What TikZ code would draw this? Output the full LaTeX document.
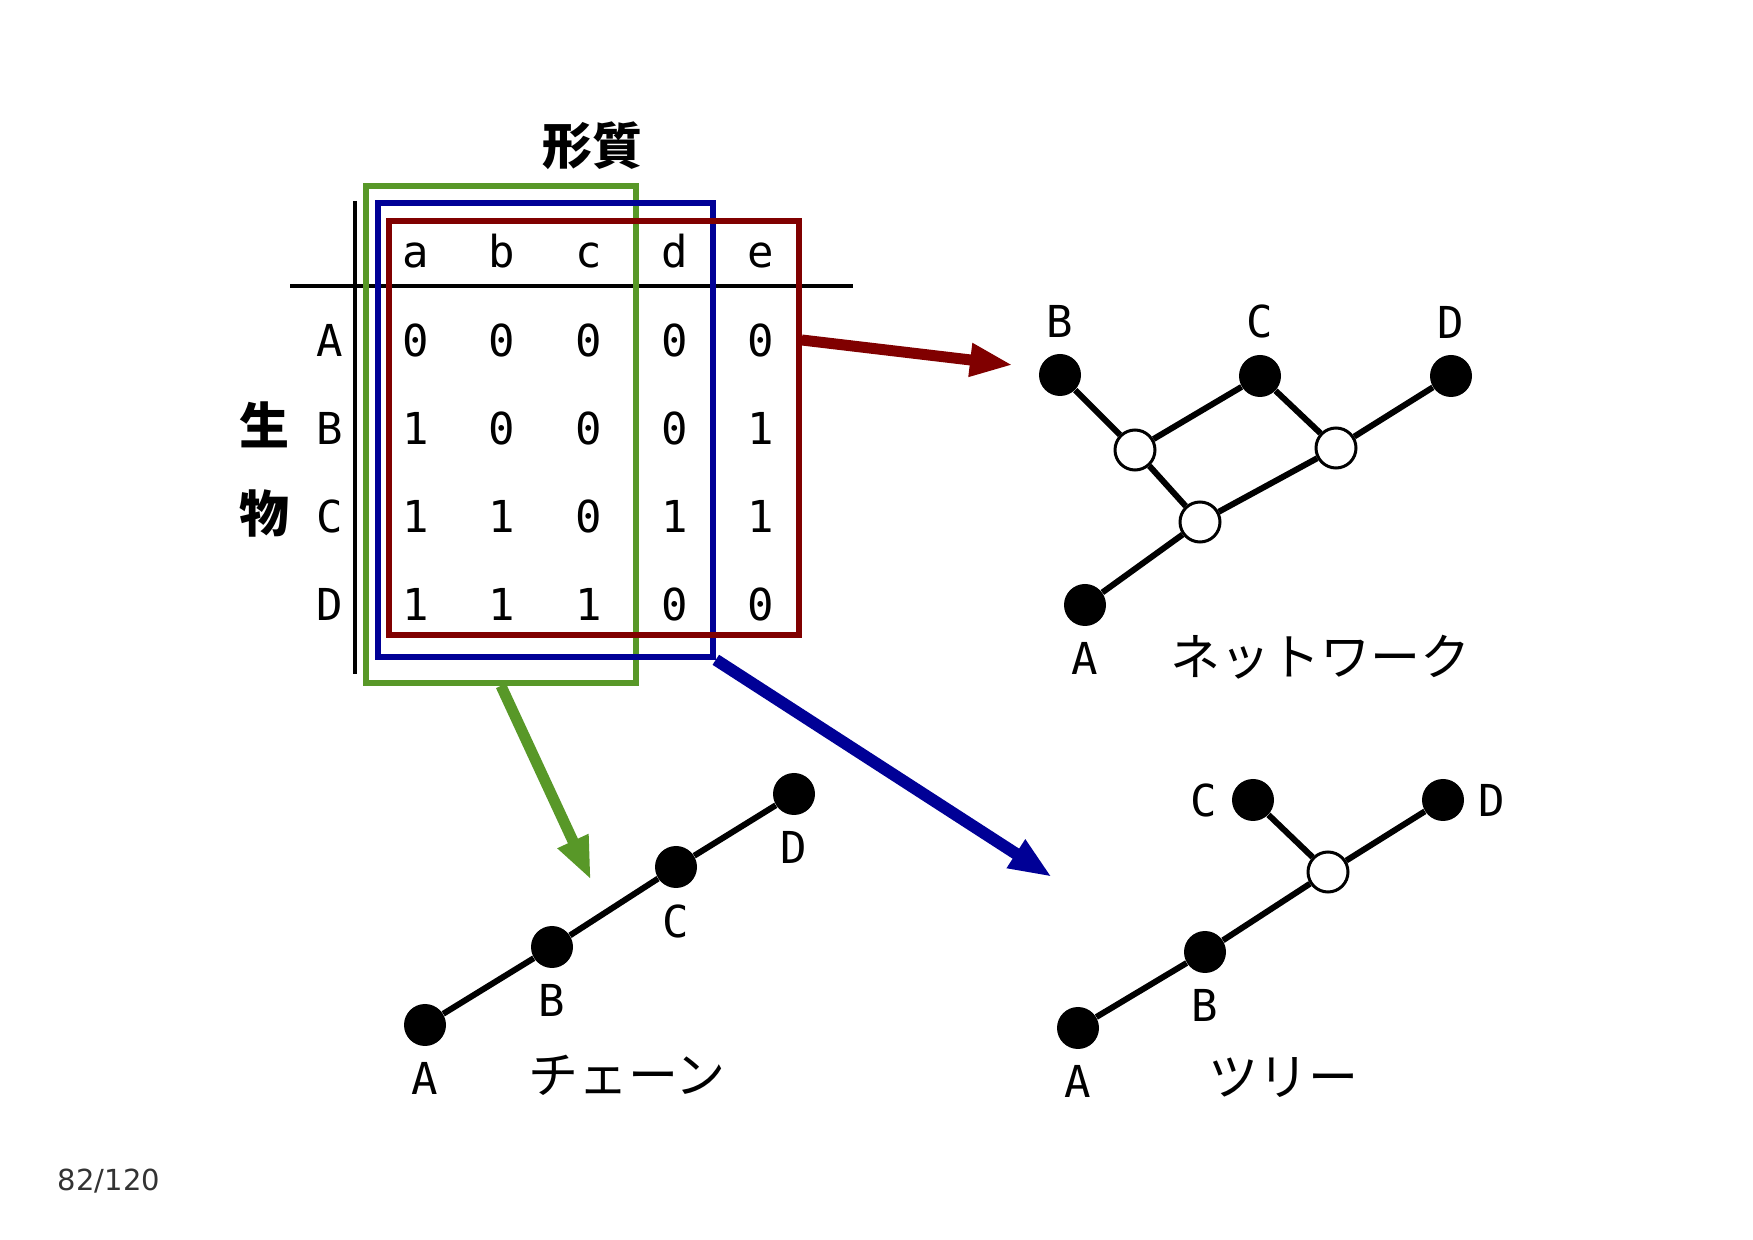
\documentclass[tikz,border=0pt]{standalone}
\usepackage{fontspec}
\setmonofont{DejaVu Sans Mono}
\newfontfamily\jpfont{Noto Sans CJK JP}
\newfontfamily\numfont{DejaVu Sans}
\usetikzlibrary{arrows.meta,positioning,fit,calc}
\definecolor{chaingreen}{RGB}{88,152,40}
\definecolor{treeblue}{RGB}{0,0,150}
\definecolor{netred}{RGB}{128,0,0}
\tikzset{
  lbl/.style={font=\ttfamily\fontsize{22}{24}\selectfont, inner sep=0},
  jp/.style={font=\jpfont\fontsize{25}{28}\selectfont, inner sep=0},
  jpb/.style={font=\jpfont\bfseries\fontsize{25}{28}\selectfont, inner sep=0},
  leaf/.style={circle, fill=black, minimum size=21pt, inner sep=0},
  hub/.style={circle, draw=black, fill=white, line width=1.5pt, minimum size=20pt, inner sep=0},
  edge/.style={line width=3pt},
  selbox/.style={draw=#1, line width=2.8pt, inner sep=0},
  pick/.style={draw=#1, line width=5.5pt, -{Triangle[length=21.5pt,width=15.5pt]}},
}

\begin{document}
\begin{tikzpicture}[x=0.5pt, y=-0.5pt]
\useasboundingbox (0,0) rectangle (1753,1240);
% headings
\node[jpb] (trait) at (592,146) {形質};
\node[jpb] (org1) at (264,425) {生};
\node[jpb] (org2) at (264,514) {物};
% table rules
\draw[line width=2pt] (290,286) -- (853,286);
\draw[line width=2pt] (355,201) -- (355,674);
% column and row heads
\foreach \c [count=\j from 0] in {a,b,c,d,e}
  \node[lbl, anchor=base] (h\c) at ({416+86.2*\j},268) {\c};
\foreach \r [count=\i from 0] in {A,B,C,D}
  \node[lbl] (row\r) at (330,{340+88.3*\i}) {\r};
% values
\foreach \v [count=\k from 0] in {0,0,0,0,0,1,0,0,0,1,1,1,0,1,1,1,1,1,0,0} {
  \pgfmathtruncatemacro{\i}{div(\k,5)}
  \pgfmathtruncatemacro{\j}{mod(\k,5)}
  \node[lbl] (v\i\j) at ({416+86.2*\j},{340+88.3*\i}) {\v};
}
% selections
\node[selbox=chaingreen, fit={(366,186) (636,683)}] (gbox) {};
\node[selbox=treeblue, fit={(378,203) (713,657)}] (bbox) {};
\node[selbox=netred, fit={(389,221) (799,635)}] (rbox) {};

% network
\node[leaf] (nB) at (1060,375) {};
\node[leaf] (nC) at (1260,376) {};
\node[leaf] (nD) at (1451,376) {};
\node[leaf] (nA) at (1085,605) {};
\node[hub] (n1) at (1135,450) {};
\node[hub] (n2) at (1336,448) {};
\node[hub] (n3) at (1200,522) {};
\draw[edge] (nB) -- (n1) -- (nC) -- (n2) -- (nD);
\draw[edge] (n1) -- (n3) -- (n2);
\draw[edge] (n3) -- (nA);
\node[lbl, above=8pt of nB] (lnB) {B};
\node[lbl, above=8pt of nC] (lnC) {C};
\node[lbl, above=8pt of nD] (lnD) {D};
\node[lbl, below=8pt of nA] (lnA) {A};
\node[jp] (net) at (1320,657) {ネットワーク};

% chain
\node[leaf] (cA) at (425,1025) {};
\node[leaf] (cB) at (552,947) {};
\node[leaf] (cC) at (676,867) {};
\node[leaf] (cD) at (794,794) {};
\draw[edge] (cA) -- (cB) -- (cC) -- (cD);
\node[lbl, below=8pt of cA] (lcA) {A};
\node[lbl, below=8pt of cB] (lcB) {B};
\node[lbl, below=8pt of cC] (lcC) {C};
\node[lbl, below=8pt of cD] (lcD) {D};
\node[jp] (chain) at (627,1075) {チェーン};

% tree
\node[leaf] (tA) at (1078,1028) {};
\node[leaf] (tB) at (1205,952) {};
\node[leaf] (tC) at (1253,800) {};
\node[leaf] (tD) at (1443,800) {};
\node[hub] (t1) at (1328,872) {};
\draw[edge] (tA) -- (tB) -- (t1) -- (tD);
\draw[edge] (t1) -- (tC);
\node[lbl, below=8pt of tA] (ltA) {A};
\node[lbl, below=8pt of tB] (ltB) {B};
\node[lbl, left=7pt of tC] (ltC) {C};
\node[lbl, right=7pt of tD] (ltD) {D};
\node[jp] (tree) at (1283,1078) {ツリー};

% arrows from the table
\coordinate (rtip) at (1013,365);
\coordinate (gtip) at (591,880);
\coordinate (btip) at (1052,877);
\draw[pick=netred] (rbox.east |- v04) -- (rtip);
\draw[pick=chaingreen] (gbox.south) -- (gtip);
\draw[pick=treeblue, line width=6pt] (bbox.south east) -- (btip);

\node[font=\numfont\fontsize{14.5}{16}\selectfont, text=black!80, inner sep=0] (page) at (109,1181) {82/120};
\end{tikzpicture}
\end{document}
